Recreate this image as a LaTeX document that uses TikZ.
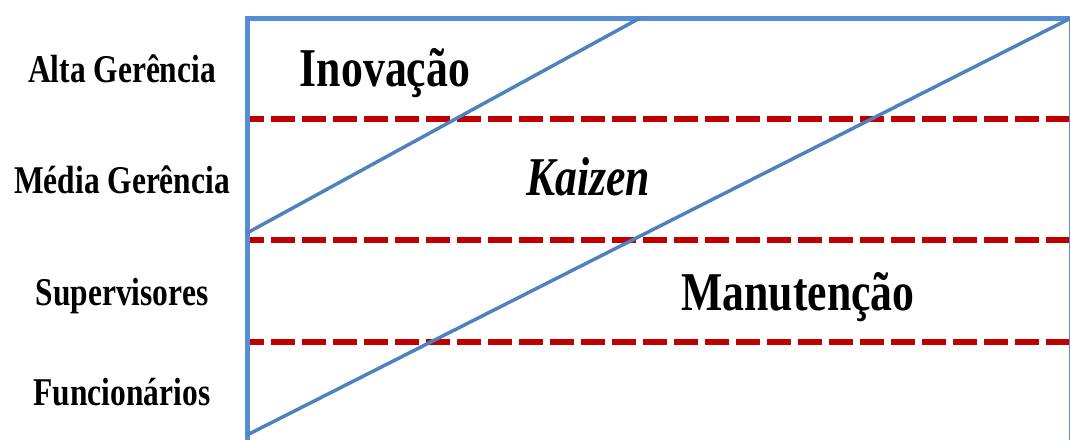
\documentclass[tikz,border=0pt]{standalone}
\usepackage{fontspec}
\setmainfont{Liberation Serif}[FakeStretch=0.8]
\usepackage{xcolor}
\usepackage{tikz}
\usetikzlibrary{positioning}
\definecolor{frameblue}{HTML}{558ED5}
\definecolor{diagblue}{HTML}{4F81BD}
\definecolor{levelred}{HTML}{C00000}
\tikzset{
  levelname/.style={anchor=base, inner sep=0pt, font=\fontsize{29.5}{32}\selectfont\bfseries},
  zonename/.style={anchor=base, inner sep=0pt, font=\fontsize{41}{44}\selectfont\bfseries},
  levelline/.style={levelred, line width=4.6pt, dash pattern=on 18pt off 5.25pt, dash phase=7.5pt},
  diagline/.style={diagblue, line width=2.6pt}
}

\begin{document}
\begin{tikzpicture}[x=0.75pt, y=-0.75pt]
\useasboundingbox (0,0) rectangle (1071,440);
% level separators
\foreach \y in {119,240,342} {
  \draw[levelline] (250,\y) -- (1069,\y);
}
% frame
\draw[frameblue, line width=1.1pt] (1069.5,18) -- (1069.5,440);
\draw[frameblue, line width=3.75pt] (245,18) -- (1070,18);
\draw[frameblue, line width=3.75pt] (247,16) -- (247,440);
% diagonals
\draw[diagline] (247,233) -- (640,18);
\draw[diagline] (247,435) -- (1069,19);
% level labels
\node[levelname] (alta) at (122,82) {Alta Gerência};
\node[levelname] (media) at (122,193) {Média Gerência};
\node[levelname] (super) at (122,305) {Supervisores};
\node[levelname] (func) at (122,405) {Funcionários};
% zones
\node[zonename] (inov) at (385,86) {Inovação};
\node[zonename] (kaizen) at (588,195) {\itshape Kaizen};
\node[zonename] (manut) at (798,310) {Manutenção};
\end{tikzpicture}
\end{document}
